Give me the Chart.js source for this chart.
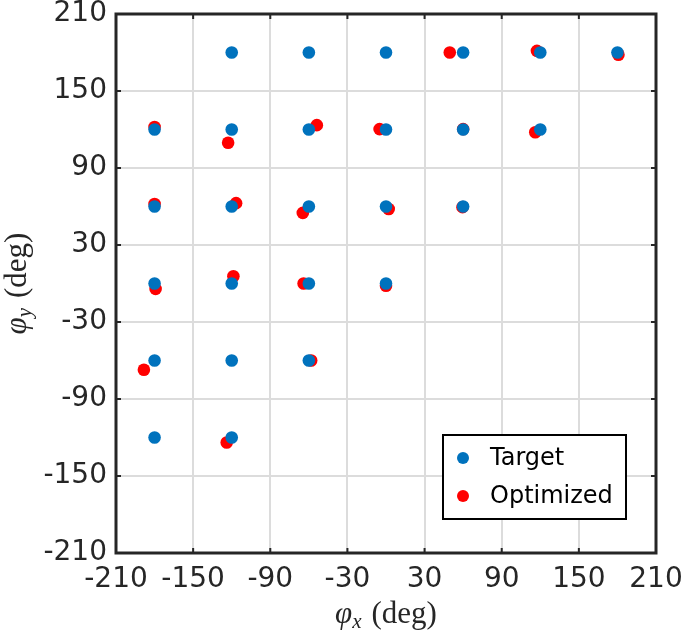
<!DOCTYPE html>
<html>
<head>
<meta charset="utf-8">
<script src="https://cdn.jsdelivr.net/npm/chart.js@4"></script>
<style>
html,body{margin:0;padding:0;background:#fff;}
canvas{display:block;}
</style>
</head>
<body>
<canvas id="c" width="685" height="635"></canvas>
<script>
// ---- data ----
const tickValues = [-210, -150, -90, -30, 30, 90, 150, 210];
const targetX = [-120, -60, 0, 60, 120, 180,
                 -180, -120, -60, 0, 60, 120,
                 -180, -120, -60, 0, 60,
                 -180, -120, -60, 0,
                 -180, -120, -60,
                 -180, -120];
const targetY = [180, 180, 180, 180, 180, 180,
                 120, 120, 120, 120, 120, 120,
                 60, 60, 60, 60, 60,
                 0, 0, 0, 0,
                 -60, -60, -60,
                 -120, -120];
const optX = [49.6, 117.4, 180.8,
              -180, -122.8, -53.8, -5, 60, 116.1,
              -180, -116.6, -64.7, 2.1, 59.5,
              -179.2, -118.7, -64.1, 0,
              -188.3, -58.2,
              -123.9];
const optY = [180, 181.3, 178.3,
              122, 109.7, 123.4, 120.3, 120.3, 117.9,
              61.9, 62.6, 55, 58, 59.5,
              -4.2, 5.7, 0, -1.8,
              -67.2, -60,
              -123.9];
const seriesNames = ['Target', 'Optimized'];
const seriesColors = ['#0072BD', '#FF0000'];

const toPts = (xs, ys) => xs.map((x, i) => ({x: x, y: ys[i]}));

const TEXT_COL = '#262626';

const framePlugin = {
  id: 'frame',
  afterDatasetsDraw(chart) {
    const ctx = chart.ctx, a = chart.chartArea;
    const xs = chart.scales.x, ys = chart.scales.y;
    ctx.save();
    ctx.strokeStyle = TEXT_COL;
    ctx.lineWidth = 2;
    // inward ticks
    const tl = 5;
    tickValues.forEach(v => {
      const px = xs.getPixelForValue(v);
      ctx.beginPath();
      ctx.moveTo(px, a.bottom); ctx.lineTo(px, a.bottom - tl);
      ctx.moveTo(px, a.top); ctx.lineTo(px, a.top + tl);
      ctx.stroke();
      const py = ys.getPixelForValue(v);
      ctx.beginPath();
      ctx.moveTo(a.left, py); ctx.lineTo(a.left + tl, py);
      ctx.moveTo(a.right, py); ctx.lineTo(a.right - tl, py);
      ctx.stroke();
    });
    ctx.lineWidth = 3;
    ctx.strokeRect(a.left, a.top, a.right - a.left, a.bottom - a.top);

    // legend
    const bx = 443, by = 435, bw = 183, bh = 84;
    ctx.fillStyle = '#fff';
    ctx.fillRect(bx, by, bw, bh);
    ctx.lineWidth = 2;
    ctx.strokeStyle = '#000';
    ctx.strokeRect(bx, by, bw, bh);
    const rows = [458, 496];
    seriesNames.forEach((n, i) => {
      ctx.fillStyle = seriesColors[i];
      ctx.beginPath();
      ctx.arc(463, rows[i], 6, 0, Math.PI * 2);
      ctx.fill();
      ctx.fillStyle = '#000';
      ctx.font = '24px "DejaVu Sans"';
      ctx.textAlign = 'left';
      ctx.textBaseline = 'middle';
      ctx.fillText(n, 490, rows[i] + 1);
    });

    // axis titles
    const drawTitle = (sub, cx, base, rot) => {
      ctx.save();
      if (rot) { ctx.translate(base, cx); ctx.rotate(-Math.PI / 2); }
      else { ctx.translate(cx, base); }
      ctx.fillStyle = TEXT_COL;
      ctx.textBaseline = 'alphabetic';
      ctx.textAlign = 'left';
      const fPhi = 'italic 31px "Liberation Serif"';
      const fSub = 'italic 21px "Liberation Serif"';
      const fRest = '31px "Liberation Serif"';
      const gap = 10;
      ctx.font = fPhi; const w1 = ctx.measureText('φ').width;
      ctx.font = fSub; const w2 = ctx.measureText(sub).width;
      ctx.font = fRest; const rest = '(deg)'; const w3 = ctx.measureText(rest).width;
      let x = -(w1 + w2 + gap + w3) / 2;
      ctx.font = fPhi; ctx.fillText('φ', x, 0); x += w1;
      ctx.font = fSub; ctx.fillText(sub, x, 5); x += w2 + gap;
      ctx.font = fRest; ctx.fillText(rest, x, 0);
      ctx.restore();
    };
    drawTitle('x', (a.left + a.right) / 2, 623, false);
    drawTitle('y', (a.top + a.bottom) / 2, 26, true);
    ctx.restore();
  }
};

new Chart(document.getElementById('c'), {
  type: 'scatter',
  data: {
    datasets: [
      {label: seriesNames[0], data: toPts(targetX, targetY), backgroundColor: seriesColors[0],
       borderWidth: 0, pointRadius: 6.3, pointHoverRadius: 6.3},
      {label: seriesNames[1], data: toPts(optX, optY), backgroundColor: seriesColors[1],
       borderWidth: 0, pointRadius: 6.3, pointHoverRadius: 6.3}
    ]
  },
  options: {
    responsive: false,
    animation: false,
    events: [],
    layout: {autoPadding: false, padding: {left: 0, top: 14, right: 29, bottom: 0}},
    plugins: {legend: {display: false}, tooltip: {enabled: false}},
    scales: {
      x: {
        type: 'linear', min: -210, max: 210,
        afterBuildTicks: s => { s.ticks = tickValues.map(v => ({value: v})); },
        afterFit: s => { s.height = 82; s.paddingLeft = 0; s.paddingRight = 0; s.paddingTop = 0; s.paddingBottom = 0; },
        ticks: {font: {family: 'DejaVu Sans', size: 28}, color: TEXT_COL, padding: 10, maxRotation: 0, autoSkip: false},
        grid: {color: '#dcdcdc', lineWidth: 2, drawTicks: false},
        border: {display: false}
      },
      y: {
        type: 'linear', min: -210, max: 210,
        afterBuildTicks: s => { s.ticks = tickValues.map(v => ({value: v})); },
        afterFit: s => { s.width = 116; s.paddingLeft = 0; s.paddingRight = 0; s.paddingTop = 0; s.paddingBottom = 0; },
        ticks: {font: {family: 'DejaVu Sans', size: 28}, color: TEXT_COL, padding: 9, autoSkip: false},
        grid: {color: '#dcdcdc', lineWidth: 2, drawTicks: false},
        border: {display: false}
      }
    }
  },
  plugins: [framePlugin]
});
</script>
</body>
</html>
